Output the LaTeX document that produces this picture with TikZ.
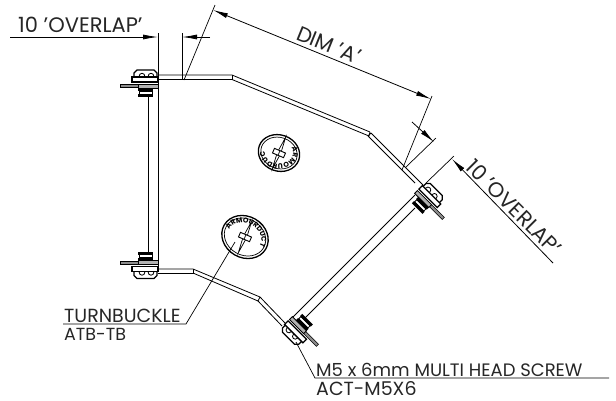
\documentclass[tikz,border=0pt]{standalone}
\usepackage{fontspec}
\setmainfont{Poppins}
\usetikzlibrary{arrows.meta,decorations.text}
\tikzset{
  ln/.style={line width=0.8pt,black},
  thin line/.style={line width=0.7pt,black},
  heavy/.style={line width=1.3pt,black},
  dimtip/.style={-{Latex[length=15pt,width=5pt]},line width=0.8pt},
  label/.style={inner sep=0pt,anchor=base west,text=black!85,font=\fontsize{#1}{20}\selectfont},
  rotlabel/.style={inner sep=0pt,text=black!85,font=\fontsize{21}{21}\selectfont},
}
\newcommand{\bx}[4]{(#1,#2) -- (#3,#2) -- (#3,#4) -- (#1,#4) -- cycle}
\newcommand{\fastener}[3]{%
\begin{scope}[shift={#1},x={#2},y={#3}]
  % rod
  \draw[line width=0.6pt,fill=black!45] \bx{-38}{5}{-15}{8};
  % head
  \draw[heavy,fill=white] (-24,-2) -- (-24,-6) -- (-21,-9) -- (-4,-9) -- (-1,-6) -- (-1,-2);
  \draw[ln] (-19,-2) .. controls (-19,-7) and (-13,-7) .. (-13,-2);
  \draw[ln] (-10,-2) .. controls (-10,-7) and (-4,-7) .. (-4,-2);
  % washer
  \draw[heavy,fill=white] \bx{-26}{-2}{0}{3};
  % plate and nut
  \draw[ln,fill=black!30] \bx{-20}{5}{0}{9};
  \fill[black] \bx{-20}{9}{-5}{12};
  \draw[ln,fill=white] \bx{-19}{12}{-6}{15};
  \fill[black] \bx{-20}{15}{-5}{18};
\end{scope}}
\newcommand{\turnbuckle}[5]{%
\begin{scope}[shift={#1}]
  \draw[line width=1.3pt,rotate=#3] (0,0) ellipse[x radius=#2,y radius=#2*0.86];
  \draw[line width=0.7pt,rotate=#3] (0,0) ellipse[x radius=#2-2.5,y radius=#2*0.86-2.5];
  \begin{scope}[rotate=#5]
    \draw[line width=0.7pt] (0,-17) -- (1.8,0) -- (0,17) -- (-1.8,0) -- cycle;
    \draw[line width=0.9pt,fill=white] (-6,-2.5) rectangle (6,2.5);
    \draw[line width=0.7pt] (0,-3) -- (0,3);
  \end{scope}
  \path[rotate=#4,decorate,decoration={text along path,text align=center,
     text={|\fontsize{7}{7}\selectfont\bfseries|ARMOURDUCT}}]
     (-#2+7,0) arc[start angle=180,end angle=360,x radius=#2-7,y radius=#2*0.86-7];
\end{scope}}
\begin{document}
\begin{tikzpicture}[x=1pt,y=-1pt]
\useasboundingbox (0,0) rectangle (616,400);

% named points
\coordinate (ovA) at (158,33);
\coordinate (ovAb) at (158,272);
\coordinate (ovB) at (182,33);
\coordinate (ovBb) at (182,79);
\coordinate (dimAtop) at (215,5);
\coordinate (dimAfoot) at (184,80);
\coordinate (dimAtip) at (213,10);
\coordinate (dimBtop) at (432,96);
\coordinate (dimBfoot) at (402,170);
\coordinate (dimBtip) at (431,99);

% left tube
\draw[ln] (148,97) -- (148,253);
\draw[ln] (ovA) -- (ovAb);

% top flange
\draw[ln] (158,75) -- (232,75) -- (370,132);
\draw[ln] (158,79.5) -- (232,79.5) -- (232,75);
\draw[ln] (232,79.5) -- (369,136) -- (370,132);
\draw[ln] (371,133) -- (423,185);
\draw[ln] (368,136) -- (415,183);
\draw[ln] (371,133) -- (368,136);

% bottom flange
\draw[ln] (158,269) -- (193,269) -- (260,297);
\draw[ln] (158,273) -- (193,273) -- (193,269);
\draw[ln] (193,273) -- (258,301) -- (260,297);
\draw[ln] (260,297) -- (285,323);
\draw[ln] (258,301) -- (282,326);

% right tube
\draw[ln] (292,318) -- (415,195);
\draw[ln] (303,320) -- (415,208);

% fasteners
\fastener{(158,79)}{(1pt,0pt)}{(0pt,-1pt)}
\fastener{(158,269.5)}{(1pt,0pt)}{(0pt,1pt)}
\fastener{(286,323)}{(-.707pt,.707pt)}{(.707pt,.707pt)}
\fastener{(421,187)}{(-.707pt,.707pt)}{(-.707pt,-.707pt)}

% turnbuckles
\turnbuckle{(279,153)}{21}{-20}{180}{-23}
\turnbuckle{(245,237)}{24}{-30}{-28}{-23}

% left overlap dimension
\node[label=21] (ovtext) at (18,32) {10 'OVERLAP'};
\coordinate (ovL) at (10,37);
\coordinate (ovM) at (158,37);
\coordinate (ovN) at (182,37);
\coordinate (ovR) at (210,37);
\draw[dimtip] (ovL) -- (ovM);
\draw[dimtip] (ovR) -- (ovN);
\draw[thin line] (ovB) -- (ovBb);

% DIM A
\draw[thin line] (dimAtop) -- (dimAfoot);
\draw[thin line] (dimBtop) -- (dimBfoot);
\draw[{Latex[length=15pt,width=5pt]}-{Latex[length=15pt,width=5pt]},line width=0.8pt] (dimAtip) -- (dimBtip);
\node[rotlabel,rotate=-22] (dimAtext) at (329,45) {DIM 'A'};

% right overlap dimension
\coordinate (roA) at (412,122);
\coordinate (roB) at (434,142);
\coordinate (roC) at (452,159);
\coordinate (roD) at (553,263);
\coordinate (reA) at (406,167);
\coordinate (reB) at (436,138);
\coordinate (reC) at (426,183);
\coordinate (reD) at (454,156);
\draw[dimtip] (roA) -- (roB);
\draw[dimtip] (roD) -- (roC);
\draw[thin line] (reA) -- (reB);
\draw[thin line] (reC) -- (reD);
\node[rotlabel,rotate=-45] (rotext) at (514,207) {10 'OVERLAP'};

% turnbuckle callout
\node[label=19] (tbtext) at (64,322) {TURNBUCKLE};
\node[label=17.5] (tbcode) at (64,340) {ATB-TB};
\coordinate (tbL) at (63,324);
\coordinate (tbR) at (186,324);
\coordinate (tbT) at (235,242);
\draw[thin line] (tbL) -- (tbR) -- (tbT);

% screw callout
\node[label=18] (sctext) at (316,376) {M5 x 6mm MULTI HEAD SCREW};
\node[label=19] (sccode) at (316,395) {ACT-M5X6};
\coordinate (scL) at (296,342);
\coordinate (scM) at (315,378);
\coordinate (scR) at (609,378);
\draw[thin line] (scL) -- (scM) -- (scR);
\end{tikzpicture}
\end{document}
